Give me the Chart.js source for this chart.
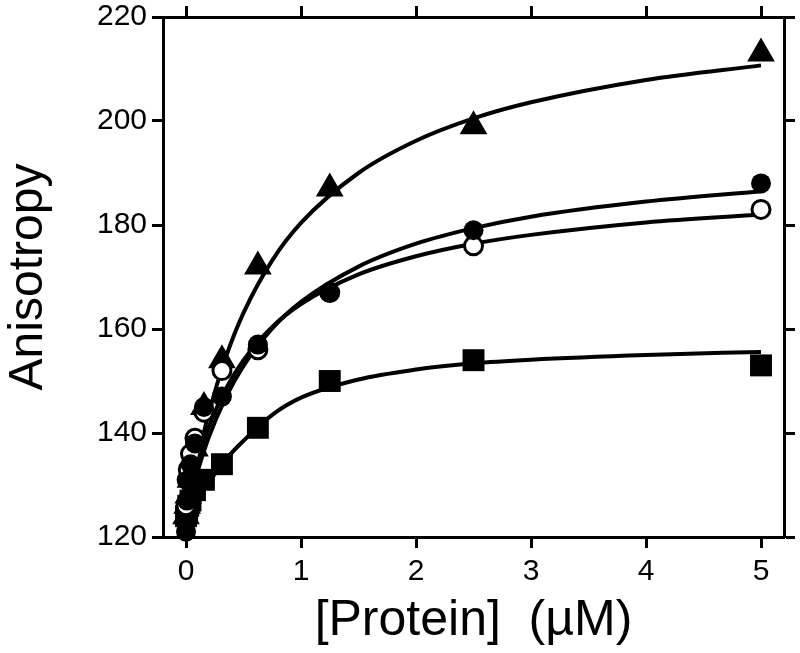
<!DOCTYPE html>
<html>
<head>
<meta charset="utf-8">
<script src="https://cdn.jsdelivr.net/npm/chart.js@4/dist/chart.umd.min.js"></script>
<style>
  html, body { margin: 0; padding: 0; background: #fff; }
</style>
</head>
<body>
<canvas id="chart" width="800" height="653"></canvas>
<script>
// protein concentrations (uM), two-fold dilution series
const conc = [0, 0.0098, 0.0195, 0.039, 0.078, 0.156, 0.3125, 0.625, 1.25, 2.5, 5];

// measured anisotropy, one array per sample
const triangleVals   = [124, 126, 128, 131, 137, 145, 154, 172, 187, 199, 213];
const filledCircVals = [121, 127, 131, 134, 138, 145, 147, 157, 167, 179, 188];
const openCircVals   = [126, 131, 133, 136, 139, 144, 152, 156, 167, 176, 183];
const squareVals     = [124, 125, 126, 127, 129, 131, 134, 141, 150, 154, 153];

// fitted curves
const fitX          = [0, 0.05, 0.1, 0.2, 0.35, 0.5, 0.75, 1, 1.5, 2, 2.5, 3, 4, 5];
const fitTriangle   = [123, 129.2, 134.7, 144, 154.8, 163.1, 173.2, 180.4, 190, 196.2, 200.5, 203.6, 207.9, 210.7];
const fitFilledCirc = [124, 128.5, 132.5, 139.3, 147, 152.9, 160.1, 165.2, 172, 176.4, 179.4, 181.6, 184.5, 186.5];
const fitOpenCirc   = [126, 130.7, 134.7, 141.3, 148.6, 154, 160.4, 164.8, 170.5, 174, 176.4, 178.1, 180.5, 182];
const fitSquare     = [123, 125, 127, 130.5, 135, 138.5, 143.5, 146.8, 150.3, 152.2, 153.4, 154.1, 155, 155.6];

const xTicks = [0, 1, 2, 3, 4, 5];
const yTicks = [120, 140, 160, 180, 200, 220];

const FONT = "'Liberation Sans', Arial, sans-serif";

const pts = (xs, ys) => xs.map((x, i) => ({ x: x, y: ys[i] }));

function pointSet(vals, style, radius, fill) {
  return {
    type: 'scatter',
    data: pts(conc, vals),
    pointStyle: style,
    pointRadius: radius,
    pointHoverRadius: radius,
    backgroundColor: fill,
    borderColor: '#000',
    borderWidth: fill === '#fff' ? 3 : 0,
    showLine: false,
    clip: false,
    order: 1
  };
}

function curveSet(vals) {
  return {
    type: 'line',
    data: pts(fitX, vals),
    borderColor: '#000',
    borderWidth: 4,
    pointRadius: 0,
    fill: false,
    cubicInterpolationMode: 'monotone',
    order: 2
  };
}

const setTicks = list => scale => { scale.ticks = list.map(v => ({ value: v })); };

const axisBorder = { display: true, color: '#000', width: 3 };
const tickGrid = { display: true, drawOnChartArea: false, drawTicks: true, tickLength: 11, tickWidth: 3, color: '#000' };

new Chart(document.getElementById('chart'), {
  type: 'scatter',
  data: {
    datasets: [
      pointSet(filledCircVals, 'circle', 10, '#000'),
      pointSet(openCircVals, 'circle', 9, '#fff'),
      pointSet(triangleVals, 'triangle', 16, '#000'),
      pointSet(squareVals, 'rect', 15.5, '#000'),
      curveSet(fitTriangle),
      curveSet(fitFilledCirc),
      curveSet(fitOpenCirc),
      curveSet(fitSquare)
    ]
  },
  options: {
    responsive: false,
    animation: false,
    layout: { padding: 0 },
    plugins: { legend: { display: false }, tooltip: { enabled: false } },
    scales: {
      x: {
        type: 'linear', position: 'bottom', min: -0.2, max: 5.2,
        afterBuildTicks: setTicks(xTicks),
        afterFit: s => { s.height = 116; s.paddingLeft = 0; s.paddingRight = 0; },
        border: axisBorder, grid: tickGrid,
        ticks: { color: '#000', font: { family: FONT, size: 30 }, padding: 6, maxRotation: 0 },
        title: { display: true, text: '[Protein]  (\u00B5M)', color: '#000', font: { family: FONT, size: 50 }, padding: { top: 0, bottom: 2 } }
      },
      x2: {
        type: 'linear', position: 'top', min: -0.2, max: 5.2,
        afterBuildTicks: setTicks(xTicks),
        afterFit: s => { s.height = 17; },
        border: axisBorder, grid: tickGrid,
        ticks: { display: false }
      },
      y: {
        type: 'linear', position: 'left', min: 120, max: 220,
        afterBuildTicks: setTicks(yTicks),
        afterFit: s => { s.width = 163; s.paddingTop = 0; s.paddingBottom = 0; },
        border: axisBorder, grid: tickGrid,
        ticks: { color: '#000', font: { family: FONT, size: 30 }, padding: 5 },
        title: { display: true, text: 'Anisotropy', color: '#000', font: { family: FONT, size: 48 }, padding: { top: 0, bottom: 0 } }
      },
      y2: {
        type: 'linear', position: 'right', min: 120, max: 220,
        afterBuildTicks: setTicks(yTicks),
        afterFit: s => { s.width = 9; },
        border: axisBorder, grid: tickGrid,
        ticks: { display: false }
      }
    }
  }
});
</script>
</body>
</html>
